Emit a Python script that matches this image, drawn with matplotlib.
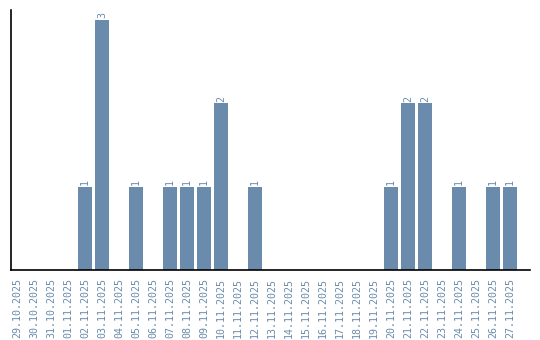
import matplotlib
matplotlib.use('Agg')
import matplotlib.pyplot as plt
import numpy as np

# daily counts, 29.10.2025 - 27.11.2025
dates = ['29.10.2025', '30.10.2025', '31.10.2025', '01.11.2025', '02.11.2025',
         '03.11.2025', '04.11.2025', '05.11.2025', '06.11.2025', '07.11.2025',
         '08.11.2025', '09.11.2025', '10.11.2025', '11.11.2025', '12.11.2025',
         '13.11.2025', '14.11.2025', '15.11.2025', '16.11.2025', '17.11.2025',
         '18.11.2025', '19.11.2025', '20.11.2025', '21.11.2025', '22.11.2025',
         '23.11.2025', '24.11.2025', '25.11.2025', '26.11.2025', '27.11.2025']
counts = [0, 0, 0, 0, 1, 3, 0, 1, 0, 1,
          1, 1, 2, 0, 1, 0, 0, 0, 0, 0,
          0, 0, 1, 2, 2, 0, 1, 0, 1, 1]

bar_color = '#6a8bab'
text_color = '#6a8bab'
mono = 'DejaVu Sans Mono'

fig = plt.figure(figsize=(5.4, 3.4), dpi=100)
ax = fig.add_axes([11 / 540, 70 / 340, 519 / 540, 260 / 340])

x = np.arange(len(dates))
ax.bar(x, counts, width=0.82, color=bar_color)

for xi, c in zip(x, counts):
    if c > 0:
        ax.text(xi, c + 0.02, str(c), rotation=90, ha='center', va='bottom',
                fontsize=7.2, family=mono, color=text_color)

ax.set_xticks(x)
ax.set_xticklabels(dates, rotation=90, fontsize=7.2, family=mono, color=text_color)
ax.tick_params(axis='x', length=0, pad=6)
ax.set_yticks([])
ax.set_xlim(-0.35, 30.18)
ax.set_ylim(0, 3.12)

for s in ['top', 'right']:
    ax.spines[s].set_visible(False)
ax.spines['left'].set_linewidth(1.2)
ax.spines['bottom'].set_linewidth(1.2)

fig.savefig('out.png', dpi=100)
